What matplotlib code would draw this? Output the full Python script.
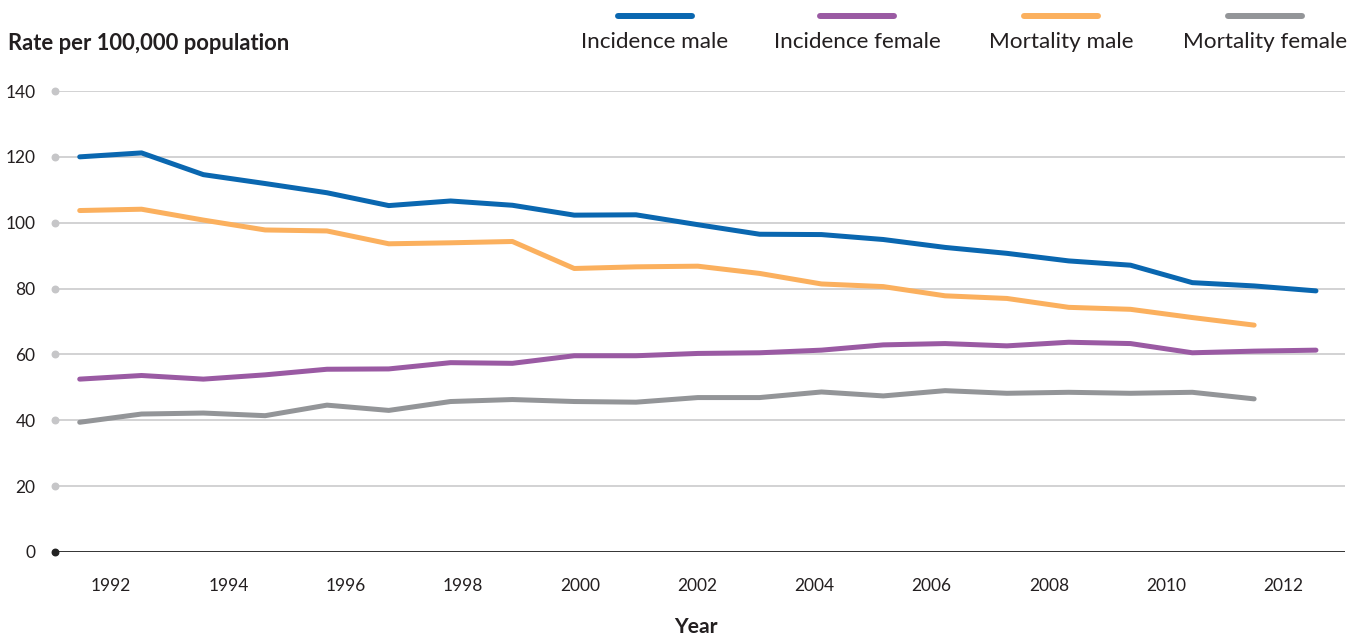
import numpy as np
import matplotlib
matplotlib.use('Agg')
import matplotlib.pyplot as plt
from matplotlib.lines import Line2D

plt.rcParams['font.family'] = ['Lato', 'DejaVu Sans']

# data
years = list(range(1992, 2013))
inc_male = [120.0, 121.2, 114.6, 111.9, 109.1, 105.2, 106.6, 105.3, 102.3, 102.4, 99.4,
            96.5, 96.4, 94.9, 92.5, 90.7, 88.4, 87.1, 81.8, 80.8, 79.3]
inc_female = [52.5, 53.6, 52.5, 53.8, 55.5, 55.6, 57.5, 57.3, 59.6, 59.6, 60.3,
              60.5, 61.3, 62.9, 63.3, 62.6, 63.7, 63.3, 60.5, 61.0, 61.3]
mort_male = [103.7, 104.1, 100.8, 97.8, 97.5, 93.6, 93.9, 94.3, 86.1, 86.6, 86.8,
             84.6, 81.4, 80.6, 77.8, 77.0, 74.3, 73.7, 71.2, 68.9]
mort_female = [39.4, 41.9, 42.2, 41.4, 44.6, 43.0, 45.7, 46.3, 45.7, 45.5, 46.9,
               46.9, 48.6, 47.4, 49.0, 48.2, 48.5, 48.2, 48.5, 46.5]
tick_labels = ['1992', '1994', '1996', '1998', '2000', '2002', '2004', '2006', '2008', '2010', '2012']
y_ticks = [0, 20, 40, 60, 80, 100, 120, 140]

series = [('Incidence male', inc_male, '#0a67b0'),
          ('Incidence female', inc_female, '#9a5aa3'),
          ('Mortality male', mort_male, '#fbb05e'),
          ('Mortality female', mort_female, '#939598')]

fig = plt.figure(figsize=(13.54, 6.39), dpi=100)
ax = fig.add_axes([55/1354, 1-552/639, 1290/1354, (552-91)/639])

x0, x1 = 1991.6, 2012.47
ax.set_xlim(x0, x1)
ax.set_ylim(0, 140)

for name, vals, col in series:
    ax.plot(years[:len(vals)], vals, color=col, lw=3.6, solid_capstyle='round',
            solid_joinstyle='round', zorder=3)

# grid
for y in y_ticks[1:]:
    ax.axhline(y, color='#c6c6c8', lw=1.1, zorder=1)
ax.axhline(0, color='#333333', lw=1.4, zorder=2)
ax.scatter([x0]*(len(y_ticks)-1), y_ticks[1:], s=22, color='#c6c6c8', clip_on=False, zorder=4)
ax.scatter([x0], [0], s=22, color='#222222', clip_on=False, zorder=4)

for s in ax.spines.values():
    s.set_visible(False)
ax.set_yticks(y_ticks)
ax.set_yticklabels([str(v) for v in y_ticks], fontsize=12.5, color='#231f20')
ax.tick_params(axis='y', length=0, pad=14)

# year labels are spread evenly under the plot, not on the data points
ax.set_xticks(np.linspace(1992.51, 2011.47, len(tick_labels)))
ax.set_xticklabels(tick_labels, fontsize=12.5, color='#231f20')
ax.tick_params(axis='x', length=0, pad=19)

fig.text(8/1354, 1-44/639, 'Rate per 100,000 population', fontsize=15.8, fontweight='bold',
         color='#231f20', va='center', ha='left')
fig.text(696/1354, 1-627/639, 'Year', fontsize=15.2, fontweight='bold',
         color='#231f20', va='center', ha='center')

# legend on top
leg_x = [655, 857, 1061, 1265]
for (name, vals, col), cx in zip(series, leg_x):
    fig.add_artist(Line2D([(cx-37)/1354, (cx+37)/1354], [1-16/639, 1-16/639], color=col,
                          lw=4.3, solid_capstyle='round'))
    fig.text(cx/1354, 1-42/639, name, fontsize=16.2, color='#231f20', ha='center', va='center')

fig.savefig('out.png', dpi=100)
